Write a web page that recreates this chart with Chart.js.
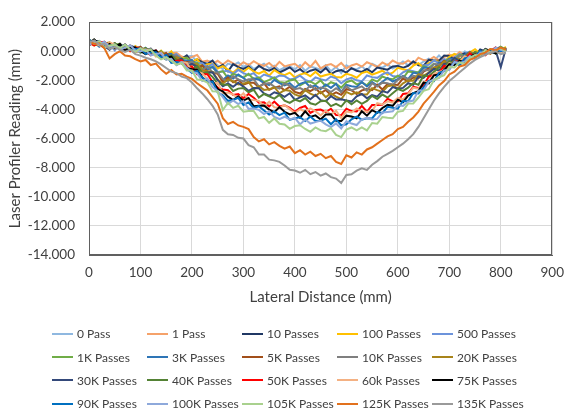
<!DOCTYPE html>
<html>
<head>
<meta charset="utf-8">
<script src="https://cdn.jsdelivr.net/npm/chart.js@4.4.1/dist/chart.umd.min.js"></script>
<style>
  body { margin: 0; background: #fff; }
  #wrap { position: relative; width: 574px; height: 419px; }
  #profileChart { position: absolute; left: 0; top: 0; }
  #legend {
    position: absolute; left: 52px; top: 322px;
    display: grid; grid-template-columns: repeat(5, 95px); grid-auto-rows: 23.4px;
    font: 12px Lato, sans-serif; color: #404040;
  }
  .item { display: flex; align-items: center; white-space: nowrap; }
  .item i { display: inline-block; width: 21px; border-top: 2.5px solid; margin-right: 4px; }
</style>
</head>
<body>
<div id="wrap">
  <canvas id="profileChart" width="574" height="419"></canvas>
  <div id="legend"></div>
</div>
<script>
// lateral position of each reading (mm)
const lateralDistance = [
  0, 10, 20, 30, 40, 50, 60, 70, 80, 90,
  100, 110, 120, 130, 140, 150, 160, 170, 180, 190,
  200, 210, 220, 230, 240, 250, 260, 270, 280, 290,
  300, 310, 320, 330, 340, 350, 360, 370, 380, 390,
  400, 410, 420, 430, 440, 450, 460, 470, 480, 490,
  500, 510, 520, 530, 540, 550, 560, 570, 580, 590,
  600, 610, 620, 630, 640, 650, 660, 670, 680, 690,
  700, 710, 720, 730, 740, 750, 760, 770, 780, 790,
  800, 810
];

// profiler readings (mm) after each number of passes
const pass0 = [
  0.7, 0.5, 0.5, 0.65, 0.3, 0.15, 0.4, 0.25, 0.1, 0.35,
  0.2, -0.16, -0.01, 0.03, -0.23, -0.4, -0.06, -0.32, -0.49, -0.36,
  -0.33, -0.71, -0.89, -0.72, -0.66, -0.96, -1.23, -0.85, -0.96, -0.77,
  -1.08, -0.9, -1.22, -1.05, -0.86, -1.18, -0.99, -1.3, -1.12, -1.03,
  -1.24, -0.95, -1.34, -1.05, -1.15, -1.27, -0.96, -1.37, -1.08, -1.5,
  -0.97, -1.17, -1.25, -1.04, -1.34, -0.87, -1.05, -1.13, -0.91, -1.19,
  -0.97, -0.7, -0.97, -0.69, -0.95, -0.71, -0.51, -0.67, -0.29, -0.66,
  -0.38, -0.2, -0.38, -0.02, -0.15, -0.23, 0.03, -0.21, 0.14, 0.05,
  0, 0.2
];
const pass1 = [
  0.8, 0.5, 0.5, 0.55, 0.2, 0.25, 0.5, 0.25, 0.1, 0.25,
  0.3, -0.15, -0.01, 0.04, -0.22, -0.38, -0.14, -0.1, -0.36, -0.53,
  -0.39, -0.26, -0.73, -0.65, -0.88, -0.66, -0.91, -0.63, -0.83, -1.04,
  -0.75, -0.96, -0.68, -0.9, -1.01, -0.81, -1.12, -0.73, -1.04, -0.95,
  -0.86, -1.16, -0.76, -1.07, -0.67, -1.18, -0.97, -0.88, -1.09, -0.8,
  -1.18, -0.98, -0.87, -1.06, -0.76, -0.9, -1.08, -0.77, -0.96, -0.64,
  -0.83, -0.86, -0.64, -0.87, -0.44, -0.61, -0.63, -0.4, -0.63, -0.41,
  -0.24, -0.37, -0.06, -0.3, -0.13, -0.02, -0.16, -0.11, 0.15, 0.05,
  -0.1, 0.2
];
const pass10 = [
  0.4, 0.6, 0.6, 0.35, 0.1, 0.45, 0.3, 0.45, 0.1, 0.25,
  -0.1, 0.04, 0.18, -0.18, -0.04, -0.41, -0.28, -0.24, -0.52, -0.29,
  -0.77, -0.56, -0.75, -0.89, -0.64, -1.15, -0.94, -1.38, -0.89, -1.09,
  -1.21, -1.04, -1.37, -1.0, -1.22, -1.34, -1.16, -1.46, -1.29, -1.11,
  -1.42, -1.23, -1.52, -1.34, -1.24, -1.46, -1.15, -1.57, -1.37, -1.3,
  -1.47, -1.16, -1.34, -1.42, -1.22, -1.45, -1.12, -1.2, -1.27, -1.05,
  -1.02, -1.14, -1.0, -0.71, -0.96, -1.0, -0.59, -0.64, -0.65, -0.3,
  -0.32, -0.54, -0.31, -0.14, -0.26, -0.34, 0.12, -0.02, -0.06, 0.15,
  0.3, 0
];
const pass100 = [
  0.6, 0.4, 0.6, 0.35, 0.6, 0.35, 0.2, 0.35, 0, 0.35,
  0, 0.04, 0.08, -0.28, 0.04, -0.33, 0, -0.58, -0.46, -0.45,
  -0.73, -0.54, -1.03, -0.89, -0.86, -1.19, -1.02, -1.26, -1.47, -1.19,
  -1.41, -1.14, -1.39, -1.54, -1.36, -1.68, -1.3, -1.52, -1.65, -1.47,
  -1.8, -1.61, -1.5, -1.72, -1.42, -1.74, -1.63, -1.55, -1.77, -1.8,
  -1.55, -1.64, -1.82, -1.5, -1.4, -1.61, -1.48, -1.34, -1.61, -1.47,
  -1.14, -1.24, -1.3, -0.99, -0.82, -1.14, -0.81, -0.64, -0.73, -0.78,
  -0.38, -0.18, -0.35, -0.37, -0.08, 0.14, -0.18, -0.02, -0.16, 0.15,
  0, 0.3
];
const pass500 = [
  0.6, 0.5, 0.7, 0.25, 0.5, 0.05, 0.5, 0.25, 0.1, 0.25,
  -0.1, 0.24, -0.03, -0.19, -0.07, -0.45, -0.33, -0.21, -0.6, -0.5,
  -0.89, -0.81, -0.82, -1.09, -0.88, -1.43, -1.39, -1.35, -1.56, -1.28,
  -1.51, -1.65, -1.51, -1.87, -1.6, -1.72, -1.85, -1.67, -1.71, -1.94,
  -1.87, -1.68, -1.97, -2.1, -1.8, -1.93, -2.01, -1.74, -1.86, -2.2,
  -1.94, -1.83, -2.0, -2.07, -1.67, -1.78, -1.83, -1.59, -1.45, -1.7,
  -1.76, -1.45, -1.29, -1.37, -1.48, -0.98, -0.93, -0.64, -0.82, -0.55,
  -0.74, -0.43, -0.19, -0.4, -0.1, -0.37, -0.09, 0.07, -0.06, 0.25,
  -0.1, 0.2
];
const pass1k = [
  0.5, 0.8, 0.4, 0.45, 0.2, 0.45, 0.5, 0.15, 0.2, 0.25,
  -0.1, 0.13, -0.04, -0.2, 0.01, -0.37, -0.56, -0.34, -0.55, -0.45,
  -0.85, -0.79, -1.21, -1.1, -1.1, -1.47, -1.37, -1.84, -1.55, -1.67,
  -1.81, -1.56, -1.93, -1.8, -2.13, -1.97, -1.8, -2.12, -2.17, -2.01,
  -1.94, -2.36, -2.14, -2.08, -2.28, -2.01, -2.4, -2.13, -2.25, -2.5,
  -2.13, -2.01, -2.28, -2.14, -2.34, -1.94, -2.09, -1.74, -1.88, -1.93,
  -1.68, -1.86, -1.39, -1.45, -1.45, -1.02, -1.15, -0.85, -1.01, -0.72,
  -0.5, -0.58, -0.23, -0.33, -0.32, -0.09, -0.3, -0.04, 0.13, -0.05,
  0.3, 0.1
];
const pass3k = [
  0.7, 0.6, 0.3, 0.55, 0.3, 0.55, 0.2, 0.25, 0.3, -0.05,
  0.3, -0.07, 0.06, -0.11, -0.4, -0.19, -0.18, -0.56, -0.67, -0.68,
  -0.59, -1.14, -0.97, -1.26, -1.08, -1.47, -1.98, -1.66, -1.88, -1.6,
  -1.84, -2.1, -1.87, -1.95, -2.19, -2.33, -1.97, -2.19, -2.35, -2.19,
  -2.52, -2.24, -2.12, -2.46, -2.36, -2.6, -2.28, -2.52, -2.24, -2.8,
  -2.32, -2.4, -2.46, -2.12, -2.42, -2.12, -2.36, -2.1, -1.84, -2.08,
  -1.92, -1.7, -1.92, -1.47, -1.55, -1.12, -1.13, -1.21, -0.77, -0.87,
  -0.54, -0.51, -0.65, -0.25, -0.04, -0.3, -0.11, 0.06, -0.07, -0.15,
  0.2, 0.1
];
const pass5k = [
  0.4, 0.7, 0.6, 0.35, 0.4, 0.55, 0.1, 0.35, 0.1, 0.15,
  0.3, -0.07, -0.25, -0.02, -0.22, -0.11, -0.51, -0.41, -0.83, -0.75,
  -0.77, -1.24, -0.98, -1.4, -1.44, -1.55, -2.11, -1.81, -2.13, -1.95,
  -2.3, -2.17, -2.17, -2.46, -2.21, -2.65, -2.5, -2.42, -2.69, -2.44,
  -2.79, -2.91, -2.59, -2.74, -2.54, -2.88, -2.66, -3.01, -2.83, -3.0,
  -2.61, -2.68, -2.94, -2.69, -2.59, -2.67, -2.3, -2.63, -2.26, -2.29,
  -2.32, -1.87, -2.08, -1.81, -1.87, -1.4, -1.19, -1.25, -0.98, -0.66,
  -0.92, -0.48, -0.61, -0.39, -0.06, -0.32, -0.02, -0.05, -0.17, 0.15,
  0, 0.1
];
const pass10k = [
  0.6, 0.8, 0.4, 0.35, 0.5, 0.15, 0.4, 0.25, 0.4, -0.05,
  0, 0.13, 0.16, -0.21, -0.21, -0.5, -0.29, -0.29, -0.7, -0.82,
  -0.73, -0.99, -1.32, -1.03, -1.46, -1.46, -1.9, -2.08, -1.7, -1.93,
  -2.07, -1.93, -1.92, -2.41, -2.25, -2.19, -2.43, -2.56, -2.22, -2.36,
  -2.61, -2.53, -2.71, -2.35, -2.65, -2.49, -2.57, -2.81, -2.54, -2.8,
  -2.41, -2.69, -2.55, -2.41, -2.71, -2.19, -2.43, -2.16, -2.2, -2.33,
  -1.97, -1.73, -1.95, -1.69, -1.76, -1.31, -1.31, -0.88, -0.92, -0.92,
  -0.58, -0.74, -0.28, -0.37, -0.35, -0.11, -0.21, 0.16, 0.03, -0.15,
  0.2, 0
];
const pass20k = [
  0.7, 0.4, 0.5, 0.55, 0.6, 0.25, 0.2, 0.45, 0.2, 0.05,
  0.2, -0.18, 0.05, -0.13, -0.03, -0.43, -0.63, -0.43, -0.56, -0.98,
  -0.91, -0.89, -1.34, -1.37, -1.42, -1.95, -2.23, -1.93, -2.06, -2.28,
  -2.23, -2.11, -2.61, -2.41, -2.66, -2.62, -2.47, -2.89, -2.67, -2.72,
  -2.97, -3.1, -2.67, -2.92, -3.07, -2.77, -3.15, -2.9, -3.12, -3.3,
  -2.8, -2.97, -2.82, -2.97, -2.97, -2.54, -2.67, -2.79, -2.41, -2.34,
  -2.56, -2.21, -2.01, -2.03, -1.58, -1.7, -1.47, -1.12, -1.04, -0.71,
  -0.96, -0.51, -0.53, -0.51, -0.08, -0.33, -0.03, -0.15, 0.02, 0.15,
  -0.1, 0.2
];
const pass30k = [
  0.5, 0.7, 0.7, 0.25, 0.4, 0.45, 0.2, 0.05, 0.4, 0.25,
  0.1, -0.08, -0.16, 0.06, -0.44, -0.25, -0.46, -0.66, -0.5, -1.03,
  -0.87, -1.06, -1.53, -1.47, -1.44, -1.99, -2.4, -2.22, -2.45, -2.17,
  -2.43, -2.72, -2.53, -2.54, -2.9, -3.06, -2.82, -2.94, -3.13, -2.89,
  -3.34, -3.17, -3.04, -3.3, -3.0, -3.36, -3.43, -3.09, -3.31, -3.3,
  -3.39, -3.46, -3.1, -2.94, -3.24, -3.01, -3.12, -2.74, -2.85, -2.47,
  -2.58, -2.52, -2.2, -2.31, -1.74, -1.84, -1.49, -1.22, -1.33, -0.88,
  -0.82, -0.46, -0.67, -0.54, -0.2, -0.24, -0.34, 0.14, -0.08, 0.05,
  -1.1, 0.2
];
const pass40k = [
  0.8, 0.5, 0.5, 0.55, 0.2, 0.55, 0.3, 0.15, 0.3, -0.05,
  0.1, 0.22, -0.16, -0.04, -0.36, -0.57, -0.28, -0.6, -0.64, -0.99,
  -1.23, -1.04, -1.51, -1.47, -1.76, -2.23, -2.28, -2.3, -2.73, -2.57,
  -2.53, -2.82, -2.65, -3.18, -2.94, -3.1, -3.26, -3.0, -3.39, -3.55,
  -3.32, -3.45, -3.22, -3.58, -3.68, -3.44, -3.41, -3.77, -3.61, -3.8,
  -3.37, -3.64, -3.38, -3.62, -3.42, -3.07, -3.28, -2.98, -3.19, -2.89,
  -2.6, -2.72, -2.5, -2.19, -2.3, -1.68, -1.71, -1.42, -1.11, -1.16,
  -0.68, -0.9, -0.61, -0.37, -0.42, -0.06, -0.14, -0.16, 0.12, -0.15,
  0.1, 0.2
];
const pass50k = [
  0.6, 0.4, 0.6, 0.65, 0.3, 0.35, 0.2, 0.45, 0, 0.25,
  0.2, 0.01, -0.28, 0.04, -0.39, -0.31, -0.74, -0.66, -0.63, -1.09,
  -1.05, -1.59, -1.59, -1.58, -2.1, -2.51, -2.63, -2.68, -3.01, -2.95,
  -3.23, -2.94, -3.19, -3.54, -3.51, -3.79, -3.46, -3.8, -3.71, -3.89,
  -4.16, -3.9, -3.76, -4.24, -4.04, -4.01, -4.18, -3.95, -4.39, -4.4,
  -3.95, -4.11, -4.14, -3.76, -4.16, -3.7, -3.69, -3.68, -3.26, -3.45,
  -3.44, -2.94, -2.89, -2.45, -2.53, -2.36, -1.75, -1.63, -1.49, -1.0,
  -1.2, -0.7, -0.69, -0.63, -0.16, -0.39, -0.06, -0.28, 0.01, 0.25,
  0, 0.1
];
const pass60k = [
  0.7, 0.6, 0.4, 0.25, 0.6, 0.45, 0.2, 0.25, 0.4, -0.05,
  0.1, 0.11, 0.02, -0.37, -0.09, -0.52, -0.55, -0.87, -0.74, -0.8,
  -1.37, -1.41, -1.52, -1.91, -2.24, -2.16, -2.88, -2.84, -2.98, -3.21,
  -2.89, -3.31, -3.36, -3.41, -3.79, -3.47, -3.85, -3.88, -3.7, -3.98,
  -4.25, -3.99, -4.15, -3.93, -4.13, -4.41, -4.07, -4.35, -4.08, -4.6,
  -4.15, -4.21, -3.93, -4.15, -4.15, -4.09, -3.57, -3.66, -3.44, -3.53,
  -3.21, -3.31, -2.95, -2.51, -2.58, -2.11, -2.09, -1.56, -1.42, -1.32,
  -0.82, -0.92, -0.7, -0.34, -0.57, -0.19, -0.17, -0.18, 0.11, 0.05,
  -0.1, 0.2
];
const pass75k = [
  0.5, 0.8, 0.5, 0.25, 0.5, 0.25, 0.5, 0.05, 0.2, 0.25,
  0, -0.19, 0.02, 0.03, -0.41, -0.44, -0.37, -0.91, -0.78, -1.16,
  -1.23, -1.29, -1.8, -2.11, -2.06, -2.6, -2.76, -3.12, -3.36, -3.11,
  -3.39, -3.21, -3.78, -3.75, -3.73, -4.01, -4.19, -3.84, -4.16, -4.34,
  -4.23, -4.57, -4.13, -4.51, -4.41, -4.69, -4.35, -4.33, -4.78, -4.8,
  -4.43, -4.49, -4.61, -4.13, -4.43, -4.05, -4.23, -3.9, -3.68, -3.75,
  -3.33, -3.51, -3.05, -2.89, -2.74, -2.15, -2.21, -1.66, -1.6, -1.3,
  -0.88, -0.96, -0.64, -0.77, -0.39, -0.21, -0.27, 0.12, 0.01, -0.15,
  0.2, 0.1
];
const pass90k = [
  0.8, 0.5, 0.6, 0.45, 0.2, 0.45, 0.2, 0.45, 0.1, 0.15,
  0.2, -0.19, -0.09, -0.08, -0.42, -0.26, -0.8, -0.74, -0.82, -1.21,
  -1.49, -1.36, -1.79, -2.11, -2.08, -2.84, -3.03, -3.41, -3.35, -3.2,
  -3.69, -3.52, -3.9, -3.78, -4.07, -4.35, -4.14, -4.39, -4.22, -4.71,
  -4.6, -4.54, -4.8, -4.49, -4.79, -4.78, -4.63, -5.02, -4.67, -5.1,
  -5.02, -4.68, -4.49, -4.7, -4.6, -4.62, -4.18, -4.25, -3.82, -3.88,
  -3.95, -3.42, -3.44, -2.87, -2.9, -2.49, -2.03, -2.06, -1.49, -1.37,
  -1.24, -0.71, -0.98, -0.5, -0.41, -0.42, 0.02, -0.19, 0.01, 0.15,
  0, 0.1
];
const pass100k = [
  0.4, 0.7, 0.5, 0.65, 0.3, 0.45, 0.1, 0.25, 0.4, 0.05,
  0, 0.1, -0.29, -0.19, -0.13, -0.58, -0.52, -0.96, -0.75, -1.14,
  -1.43, -1.51, -2.05, -1.88, -2.46, -2.74, -3.15, -3.63, -3.38, -3.63,
  -3.42, -3.96, -3.94, -4.03, -4.32, -4.12, -4.51, -4.66, -4.5, -4.69,
  -4.58, -5.03, -4.68, -4.97, -4.87, -4.77, -5.02, -5.21, -4.96, -5.3,
  -4.81, -4.97, -5.07, -4.68, -4.58, -4.69, -4.65, -4.21, -4.17, -4.13,
  -3.69, -3.76, -3.47, -3.39, -2.71, -2.69, -2.11, -1.93, -1.85, -1.32,
  -1.28, -0.74, -0.8, -0.72, -0.33, -0.53, -0.09, -0.09, -0.1, 0.25,
  0.1, 0
];
const pass105k = [
  0.7, 0.5, 0.7, 0.25, 0.4, 0.45, 0.2, 0.45, 0.1, -0.05,
  0.2, 0, 0.1, -0.3, -0.56, -0.41, -0.66, -0.92, -0.82, -1.33,
  -1.33, -1.94, -1.99, -2.15, -2.76, -2.77, -4.04, -3.54, -3.89, -3.75,
  -4.15, -4.1, -4.11, -4.62, -4.52, -4.92, -4.62, -4.98, -5.03, -5.33,
  -5.14, -5.09, -5.34, -5.54, -5.24, -5.44, -5.49, -5.29, -5.75, -5.9,
  -5.39, -5.24, -5.44, -5.24, -5.44, -4.93, -4.98, -4.52, -4.57, -4.61,
  -4.16, -4.1, -3.6, -3.59, -3.18, -2.72, -2.61, -2.0, -1.79, -1.64,
  -1.08, -1.12, -0.77, -0.87, -0.46, -0.26, -0.3, 0.1, -0.1, 0.05,
  0.2, 0
];
const pass125k = [
  0.7, 0.5, 0.55, 0.2, -0.5, -0.2, 0, -0.3, -0.35, -0.55,
  -0.7, -0.6, -0.95, -0.85, -1.25, -1.55, -1.3, -1.6, -1.55, -1.75,
  -1.9, -2.2, -2.45, -2.7, -3.15, -3.6, -4.6, -5.0, -4.85, -5.1,
  -5.2, -5.35, -5.9, -6.2, -6.05, -6.4, -6.25, -6.5, -6.7, -6.55,
  -7.0, -6.8, -7.1, -6.9, -7.2, -7.05, -7.35, -7.2, -7.6, -7.75,
  -7.15, -7.3, -6.95, -7.1, -6.75, -6.6, -6.35, -6.1, -5.85, -5.7,
  -5.35, -5.2, -4.85, -4.55, -4.15, -3.6, -3.2, -2.8, -2.35, -2.05,
  -1.6, -1.4, -1.05, -0.95, -0.6, -0.45, -0.2, -0.1, 0.15, 0.05,
  0.25, 0.1
];
const pass135k = [
  0.6, 0.75, 0.45, 0.5, 0.15, 0.3, 0.1, -0.05, 0.1, -0.2,
  -0.3, -0.45, -0.55, -0.7, -0.9, -1.15, -1.4, -1.5, -1.75, -1.85,
  -2.15, -2.55, -2.9, -3.3, -3.75, -4.35, -5.4, -5.7, -5.75, -5.95,
  -6.0, -6.45, -6.6, -7.1, -7.1, -7.45, -7.5, -7.6, -7.85, -8.15,
  -8.2, -8.35, -8.15, -8.45, -8.3, -8.55, -8.4, -8.65, -8.75, -9.05,
  -8.5, -8.45, -8.2, -8.05, -8.15, -7.8, -7.55, -7.25, -7.05, -6.85,
  -6.6, -6.35, -6.05, -5.7, -5.2, -4.6, -4.0, -3.4, -2.9, -2.45,
  -2.05, -1.75, -1.45, -1.15, -0.85, -0.6, -0.4, -0.25, -0.1, 0,
  -0.2, -0.1
];

const seriesNames = [
  '0 Pass', '1 Pass', '10 Passes', '100 Passes', '500 Passes',
  '1K Passes', '3K Passes', '5K Passes', '10K Passes', '20K Passes',
  '30K Passes', '40K Passes', '50K Passes', '60k Passes', '75K Passes',
  '90K Passes', '100K Passes', '105K Passes', '125K Passes', '135K Passes'
];
const seriesValues = [
  pass0, pass1, pass10, pass100, pass500,
  pass1k, pass3k, pass5k, pass10k, pass20k,
  pass30k, pass40k, pass50k, pass60k, pass75k,
  pass90k, pass100k, pass105k, pass125k, pass135k
];
const seriesColors = [
  '#8fb8e0', '#f5a26a', '#203864', '#ffc000', '#6c93db',
  '#70ad47', '#2e75b6', '#a24f1a', '#7f7f7f', '#a8841a',
  '#34497a', '#548235', '#ff0000', '#f4b183', '#000000',
  '#0070c0', '#8ea9db', '#a9d18e', '#e2711d', '#9a9a9a'
];

const textColor = '#404040';

// box around the plot area
const plotFrame = {
  id: 'plotFrame',
  afterDatasetsDraw(chart) {
    const { ctx, chartArea: a } = chart;
    ctx.save();
    ctx.strokeStyle = '#606060';
    ctx.lineWidth = 1;
    ctx.strokeRect(Math.round(a.left) + 0.5, Math.round(a.top) + 0.5,
      Math.round(a.width) - 1, Math.round(a.height) - 1);
    ctx.restore();
  }
};

// later series sit on top, like the spreadsheet they came from
const datasets = seriesValues.map((vals, i) => ({
  label: seriesNames[i],
  data: vals.map((y, k) => ({ x: lateralDistance[k], y: y })),
  borderColor: seriesColors[i],
  borderWidth: 2,
  pointRadius: 0,
  order: -i
}));

const ctx = document.getElementById('profileChart').getContext('2d');
new Chart(ctx, {
  type: 'line',
  data: { datasets: datasets },
  options: {
    responsive: false,
    animation: false,
    layout: { padding: { top: 14, right: 15, bottom: 112, left: 0 } },
    plugins: {
      legend: { display: false },
      tooltip: { enabled: false }
    },
    scales: {
      x: {
        type: 'linear',
        min: 0,
        max: 900,
        afterFit: axis => { axis.height = 52; },
        grid: { color: '#d9d9d9', drawTicks: false },
        border: { color: '#606060' },
        ticks: { stepSize: 100, padding: 10, color: textColor, font: { family: 'Lato', size: 13.5 } },
        title: {
          display: true,
          text: 'Lateral Distance (mm)',
          color: textColor,
          font: { family: 'Lato', size: 15 },
          padding: { top: 0, bottom: 1 }
        }
      },
      y: {
        min: -14,
        max: 2,
        afterFit: axis => { axis.width = 89; },
        grid: { color: '#d9d9d9', drawTicks: false },
        border: { color: '#606060' },
        ticks: {
          stepSize: 2,
          padding: 14,
          color: textColor,
          font: { family: 'Lato', size: 13.5 },
          callback: v => v.toFixed(3)
        },
        title: {
          display: true,
          text: 'Laser Profiler Reading (mm)',
          color: textColor,
          font: { family: 'Lato', size: 15 },
          padding: { top: 6, bottom: 0 }
        }
      }
    }
  },
  plugins: [plotFrame]
});

// legend laid out as a 5 x 4 grid under the plot
const legend = document.getElementById('legend');
seriesNames.forEach((name, i) => {
  const item = document.createElement('div');
  item.className = 'item';
  const swatch = document.createElement('i');
  swatch.style.borderTopColor = seriesColors[i];
  item.appendChild(swatch);
  item.appendChild(document.createTextNode(name));
  legend.appendChild(item);
});
</script>
</body>
</html>
